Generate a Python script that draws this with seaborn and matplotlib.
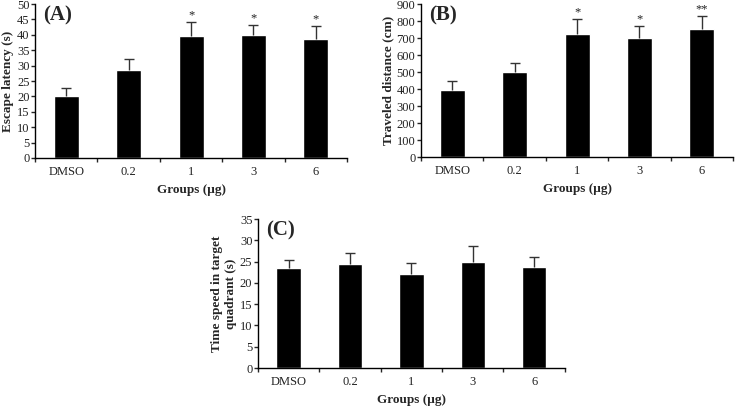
import numpy as np
import pandas as pd
import seaborn as sns
import matplotlib.pyplot as plt

# Data
groups = ['DMSO', '0.2', '1', '3', '6']

latency_mean = [20.0, 28.7, 39.5, 39.8, 38.5]
latency_err = [2.7, 3.3, 4.5, 3.3, 4.3]
latency_sig = ['', '', '*', '*', '*']

distance_mean = [393, 500, 725, 700, 755]
distance_err = [52, 55, 85, 70, 75]
distance_sig = ['', '', '*', '*', '**']

quadrant_mean = [23.5, 24.4, 22.1, 25.0, 23.8]
quadrant_err = [1.8, 2.7, 2.5, 3.7, 2.2]
quadrant_sig = ['', '', '', '', '']

sns.set_style('white')
plt.rcParams['font.family'] = ['Liberation Serif', 'DejaVu Serif']


def draw_panel(ax, means, errs, sig, ylabel, ymax, ystep, tag, star_pad):
    df = pd.DataFrame({'group': groups, 'value': means})
    sns.barplot(data=df, x='group', y='value', color='black', width=0.4,
                errorbar=None, ax=ax, saturation=1)
    x = np.arange(len(groups))
    tops = np.array(means) + np.array(errs)
    # upper-only error bars with a cap at the top end
    ax.vlines(x, means, tops, color='#333333', linewidth=1.0)
    ax.plot(x, tops, linestyle='none', marker='_', markersize=7,
            markeredgewidth=1.0, color='#333333')
    for xi, t, s in zip(x, tops, sig):
        if s:
            ax.text(xi, t + star_pad, s, ha='center', va='bottom',
                    fontsize=9, color='#222222')
    ax.set_xlim(-0.5, len(groups) - 0.5)
    ax.set_ylim(0, ymax)
    ax.set_yticks(np.arange(0, ymax + ystep / 2, ystep))
    ax.set_xticks(np.arange(-0.5, len(groups)), minor=True)
    ax.tick_params(axis='x', which='major', length=0, labelsize=9, pad=6,
                   labelcolor='#222222')
    ax.tick_params(axis='x', which='minor', length=3, width=1, direction='out',
                   bottom=True)
    ax.tick_params(axis='y', length=3, width=1, direction='out', left=True,
                   labelsize=9, pad=1, labelcolor='#222222')
    for side in ['top', 'right']:
        ax.spines[side].set_visible(False)
    for side in ['left', 'bottom']:
        ax.spines[side].set_color('black')
        ax.spines[side].set_linewidth(1.0)
    ax.set_xlabel('Groups (µg)', fontsize=9.5, fontweight='bold', labelpad=4)
    ax.set_ylabel(ylabel, fontsize=9.5, fontweight='bold', labelpad=2)
    ax.text(0.025, 0.99, tag, transform=ax.transAxes, ha='left', va='top',
            fontsize=15, fontweight='bold')


fig = plt.figure(figsize=(7.36, 4.09), dpi=100)
ax_a = fig.add_axes([0.0476, 0.6137, 0.424, 0.3765])
ax_b = fig.add_axes([0.572, 0.616, 0.424, 0.374])
ax_c = fig.add_axes([0.3505, 0.1002, 0.417, 0.364])

draw_panel(ax_a, latency_mean, latency_err, latency_sig,
           'Escape latency (s)', 50, 5, '(A)', 0.3)
draw_panel(ax_b, distance_mean, distance_err, distance_sig,
           'Traveled distance (cm)', 900, 100, '(B)', 5)
draw_panel(ax_c, quadrant_mean, quadrant_err, quadrant_sig,
           'Time speed in target\nquadrant (s)', 35, 5, '(C)', 0.3)

fig.savefig('out.png', dpi=100, facecolor='white')
